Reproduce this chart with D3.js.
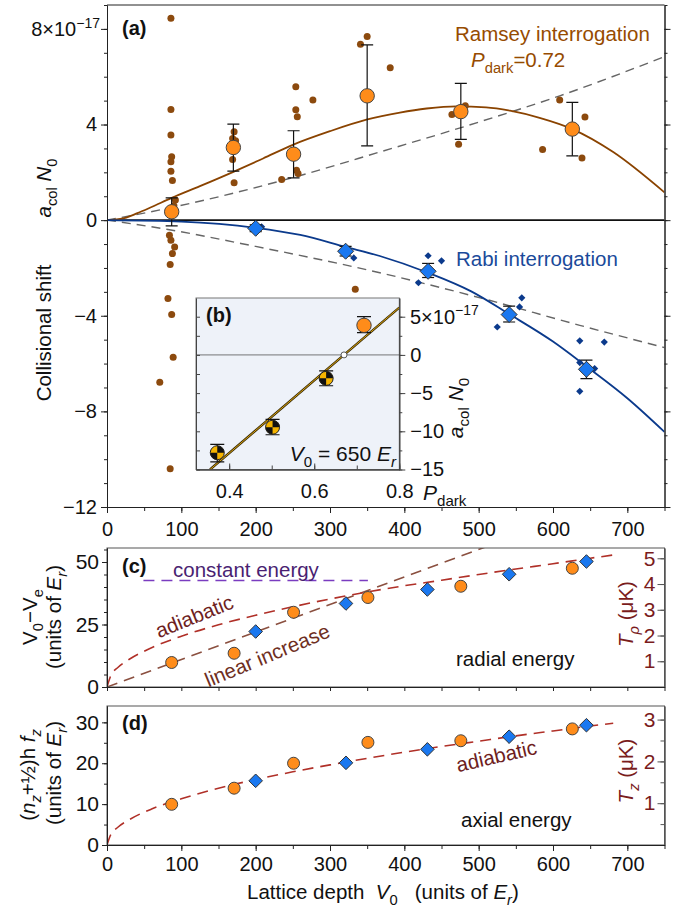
<!DOCTYPE html>
<html>
<head>
<meta charset="utf-8">
<script src="https://cdn.jsdelivr.net/npm/d3@7.9.0/dist/d3.min.js"></script>
<style>
  body { margin: 0; background: #fff; }
  svg { font-family: "Liberation Sans", Arial, sans-serif; }
  svg text { white-space: pre; }
</style>
</head>
<body>
<svg id="fig" width="679" height="908"></svg>
<script>
// ---- data ----
// (a) Ramsey averaged points (units of 1e-17)
const ramseyV = [87, 170, 251, 350, 476, 626];
const ramseyShift = [0.35, 3.04, 2.76, 5.2, 4.54, 3.81];
const ramseyHi = [0.93, 4.02, 3.74, 7.33, 5.72, 4.93];
const ramseyLo = [-0.24, 2.05, 1.77, 3.11, 3.38, 2.69];
// individual Ramsey measurements
const ramseyDotV = [86, 86, 86, 87, 86, 86, 88, 92, 90, 84, 86, 91, 88, 85, 82, 87, 89, 71, 85,
  171, 169, 173, 169, 171, 254, 254, 256, 277, 255, 257, 235, 341, 350, 381, 334,
  464, 482, 473, 586, 609, 643, 639];
const ramseyDotA = [8.45, 4.63, 3.56, 2.65, 2.44, 2.05, 1.66, 0.84, 0.6, -0.63, -0.84, -1.12, -1.4, -1.86, -3.28, -3.95, -5.74, -6.78, -10.4,
  3.7, 3.42, 3.32, 2.54, 1.56, 5.58, 4.62, 4.33, 5.03, 2.09, 1.95, 1.7, 7.36, 7.68, 6.37, -2.89,
  4.42, 4.79, 3.18, 2.96, 5.03, 4.31, 2.6];
// Rabi averaged points
const rabiV = [200, 321, 432, 541, 645];
const rabiShift = [-0.34, -1.3, -2.14, -3.95, -6.24];
const rabiHi = [-0.2, -1.1, -1.81, -3.6, -5.86];
const rabiLo = [-0.48, -1.5, -2.4, -4.26, -6.63];
// individual Rabi measurements
const rabiDotV = [208, 332, 432, 450, 419, 558, 555, 525, 636, 669, 636, 656, 636];
const rabiDotA = [-0.28, -1.58, -1.49, -1.7, -2.62, -3.25, -3.63, -4.47, -5.05, -5.1, -5.96, -6.21, -7.16];
// fitted curves
const ramseyFitV = [0, 13, 26, 40, 60, 87, 125, 170, 210, 250, 300, 349, 394, 430, 470, 510, 542, 582, 626, 681, 750];
const ramseyFitA = [0, 0.03, 0.11, 0.28, 0.55, 0.93, 1.42, 2.02, 2.58, 3.15, 3.72, 4.2, 4.5, 4.67, 4.76, 4.72, 4.58, 4.28, 3.81, 2.85, 1.16];
const rabiFitV = [0, 100, 200, 260, 321, 367, 432, 490, 541, 600, 645, 700, 750];
const rabiFitA = [0, -0.06, -0.32, -0.62, -1.12, -1.5, -2.2, -2.98, -3.93, -5.08, -6.12, -7.45, -8.86];
const upperDashV = [0, 87, 250, 367, 500, 609, 750];
const upperDashA = [0, 0.53, 1.78, 2.85, 4.1, 5.2, 6.84];
const lowerDashV = [0, 80, 200, 367, 502, 636, 750];
const lowerDashA = [0, -0.38, -1.1, -2.2, -3.25, -4.4, -5.33];

// (b) inset at V0 = 650 Er
const insetP = [0.372, 0.502, 0.628];
const insetA = [-12.8, -9.47, -3.07];
const insetHi = [-11.7, -8.45, -2.08];
const insetLo = [-14.0, -10.45, -4.04];
const insetRamseyP = [0.717];
const insetRamseyA = [3.87];
const insetRamseyHi = [5.0];
const insetRamseyLo = [2.92];
const insetFitP = [0.355, 0.8];
const insetFitA = [-15, 6.2];
const insetZeroP = [0.67];

// (c) radial energy, (d) axial energy
const ramseyEV = [87, 171, 251, 351, 476, 626];
const rabiEV = [200, 321.5, 431, 541, 645];
const radialRamsey = [9.8, 13.5, 29.9, 35.8, 40.3, 47.5];
const radialRabi = [22.2, 33.4, 39.0, 45.1, 50.2];
const axialRamsey = [9.95, 13.9, 20.0, 25.1, 25.5, 28.4];
const axialRabi = [15.7, 20.1, 23.4, 26.5, 29.3];
const adiabV = [0, 5, 15, 30, 60, 100, 150, 200, 250, 300, 350, 400, 450, 500, 550, 600, 650, 681];
const radialAdiab = [0, 4.5, 7.9, 11.1, 15.7, 20.3, 24.9, 28.7, 32.1, 35.2, 38, 40.5, 42.7, 45.0, 47.2, 49.3, 51.5, 52.8];
const axialAdiab = [0, 2.5, 4.4, 6.2, 8.8, 11.3, 13.9, 16.0, 17.9, 19.6, 21.2, 22.7, 24.1, 25.4, 26.7, 27.9, 29.1, 29.8];
const linearV = [0, 510];
const linearE = [0, 56.1];
const constV = [49, 351];
const constE = [42.6, 42.6];

const xTicks = [0, 100, 200, 300, 400, 500, 600, 700];

// ---- scales ----
const X0 = 107, X1 = 664.5;
const x = d3.scaleLinear([0, 750], [X0, X1]);
const yA = d3.scaleLinear([-12, 9], [507, 5]);
const yC = d3.scaleLinear([0, 55.6], [687, 548]);
const tC = d3.scaleLinear([0, 5.4], [687, 548]);
const yD = d3.scaleLinear([0, 34], [845, 706]);
const tD = d3.scaleLinear([0, 3.325], [845, 706]);
const xB = d3.scaleLinear([0.322, 0.8], [196, 399.3]);
const yB = d3.scaleLinear([-15, 7.45], [469.5, 298]);

const svg = d3.select('#fig');
svg.append('rect').attr('width', 679).attr('height', 908).attr('fill', '#fff');

const FS = 20;       // tick labels
const FA = 20.5;     // annotations
const zip = (a, b) => a.map((v, i) => [v, b[i]]);

// rich text with italic / subscript / superscript pieces
function rich(t, parts, fs) {
  let shift = 0;
  parts.forEach(p => {
    let target = 0, size = fs;
    if (p.sub) { target = fs * 0.3; size = fs * 0.72; }
    if (p.sup) { target = -fs * 0.42; size = fs * 0.7; }
    t.append('tspan')
      .attr('dy', target - shift)
      .attr('font-size', size)
      .attr('font-style', p.i ? 'italic' : null)
      .text(p.t);
    shift = target;
  });
  return t;
}

function styleAxis(g, color) {
  g.selectAll('path.domain').attr('stroke', color || '#222');
  g.selectAll('line').attr('stroke', color || '#222');
  g.selectAll('text').attr('font-size', FS).attr('fill', color || '#111');
}

function diamond(r) {
  return `M0,${-r}L${r},0L0,${r}L${-r},0Z`;
}

// ================= panel (a) =================
const gA = svg.append('g');
svg.append('clipPath').attr('id', 'clipA')
  .append('rect').attr('x', X0).attr('y', 5).attr('width', X1 - X0).attr('height', 502);

const lineA = d3.line().x(d => x(d[0])).y(d => yA(d[1])).curve(d3.curveMonotoneX);
const plotA = gA.append('g').attr('clip-path', 'url(#clipA)');

plotA.append('path').attr('d', lineA(zip(upperDashV, upperDashA)))
  .attr('fill', 'none').attr('stroke', '#666').attr('stroke-width', 1.4).attr('stroke-dasharray', '9,6');
plotA.append('path').attr('d', lineA(zip(lowerDashV, lowerDashA)))
  .attr('fill', 'none').attr('stroke', '#666').attr('stroke-width', 1.4).attr('stroke-dasharray', '9,6');

// zero line
plotA.append('line').attr('x1', X0).attr('x2', X1).attr('y1', yA(0)).attr('y2', yA(0))
  .attr('stroke', '#111').attr('stroke-width', 1.6);

plotA.append('path').attr('d', lineA(zip(ramseyFitV, ramseyFitA)))
  .attr('fill', 'none').attr('stroke', '#8a4300').attr('stroke-width', 1.8);
plotA.append('path').attr('d', lineA(zip(rabiFitV, rabiFitA)))
  .attr('fill', 'none').attr('stroke', '#0b3a8c').attr('stroke-width', 1.8);

// individual points
plotA.selectAll('.rdot').data(zip(ramseyDotV, ramseyDotA)).join('circle')
  .attr('cx', d => x(d[0])).attr('cy', d => yA(d[1])).attr('r', 3.5).attr('fill', '#8c4a0e');
plotA.selectAll('.bdot').data(zip(rabiDotV, rabiDotA)).join('path')
  .attr('transform', d => `translate(${x(d[0])},${yA(d[1])})`).attr('d', diamond(3.6)).attr('fill', '#0b3a8c');

// error bars
function errBars(g, xs, his, los, sx, sy, cap) {
  xs.forEach((v, i) => {
    const cx = sx(v);
    g.append('line').attr('x1', cx).attr('x2', cx).attr('y1', sy(his[i])).attr('y2', sy(los[i]))
      .attr('stroke', '#111').attr('stroke-width', 1.2);
    [his[i], los[i]].forEach(e => g.append('line')
      .attr('x1', cx - cap).attr('x2', cx + cap).attr('y1', sy(e)).attr('y2', sy(e))
      .attr('stroke', '#111').attr('stroke-width', 1.2));
  });
}
errBars(plotA, ramseyV, ramseyHi, ramseyLo, x, yA, 6);
errBars(plotA, rabiV, rabiHi, rabiLo, x, yA, 6);

plotA.selectAll('.rbig').data(zip(ramseyV, ramseyShift)).join('circle')
  .attr('cx', d => x(d[0])).attr('cy', d => yA(d[1])).attr('r', 7.2)
  .attr('fill', '#ff8c1a').attr('stroke', '#444').attr('stroke-width', 1);
plotA.selectAll('.bbig').data(zip(rabiV, rabiShift)).join('path')
  .attr('transform', d => `translate(${x(d[0])},${yA(d[1])})`).attr('d', diamond(8))
  .attr('fill', '#1a78f0').attr('stroke', '#333').attr('stroke-width', 1);

// axes (a)
const axA = gA.append('g').attr('transform', `translate(${X0},0)`);
axA.call(d3.axisLeft(yA).tickValues(d3.range(-12, 9.5, 1)).tickSize(3).tickSizeOuter(0).tickFormat(''));
const axA2 = gA.append('g').attr('transform', `translate(${X0},0)`)
  .call(d3.axisLeft(yA).tickValues([-12, -8, -4, 0, 4, 8]).tickSize(6).tickSizeOuter(0).tickPadding(4)
    .tickFormat(d => d === 8 ? '' : d3.format('')(d)));
styleAxis(axA); styleAxis(axA2);
rich(gA.append('text').attr('x', 100).attr('y', yA(8) + 7).attr('text-anchor', 'end').attr('fill', '#111'),
  [{ t: '8×10' }, { t: '−17', sup: true }], FS);

const axAR = gA.append('g').attr('transform', `translate(${X1},0)`);
axAR.call(d3.axisRight(yA).tickValues(d3.range(-12, 9.5, 1)).tickSize(3).tickSizeOuter(0).tickFormat(''));
const axAR2 = gA.append('g').attr('transform', `translate(${X1},0)`)
  .call(d3.axisRight(yA).tickValues([-12, -8, -4, 0, 4, 8]).tickSize(6).tickSizeOuter(0).tickFormat(''));
styleAxis(axAR); styleAxis(axAR2);

const axAB = gA.append('g').attr('transform', `translate(0,507)`)
  .call(d3.axisBottom(x).tickValues(d3.range(0, 751, 50)).tickSize(4).tickSizeOuter(0).tickFormat(''));
const axAB2 = gA.append('g').attr('transform', `translate(0,507)`)
  .call(d3.axisBottom(x).tickValues(xTicks).tickSize(6).tickSizeOuter(0).tickPadding(9));
styleAxis(axAB); styleAxis(axAB2);
gA.append('line').attr('x1', X0).attr('x2', X1).attr('y1', 5).attr('y2', 5).attr('stroke', '#222');

// labels (a)
gA.append('text').attr('x', 122).attr('y', 35).attr('font-size', 20).attr('font-weight', 'bold').attr('fill', '#111').text('(a)');
gA.append('text').attr('x', 455).attr('y', 41).attr('font-size', FA).attr('fill', '#964b00').text('Ramsey interrogation');
rich(gA.append('text').attr('x', 471).attr('y', 67).attr('fill', '#964b00'),
  [{ t: 'P', i: true }, { t: 'dark', sub: true }, { t: '=0.72' }], FA);
gA.append('text').attr('x', 456).attr('y', 266).attr('font-size', FA).attr('fill', '#1a4a9a').text('Rabi interrogation');
gA.append('text').attr('transform', 'translate(51,333) rotate(-90)').attr('text-anchor', 'middle')
  .attr('font-size', FA).attr('fill', '#111').text('Collisional shift');
rich(gA.append('text').attr('transform', 'translate(51,188) rotate(-90)').attr('text-anchor', 'middle').attr('fill', '#111'),
  [{ t: 'a', i: true }, { t: 'col', sub: true }, { t: ' ' }, { t: 'N', i: true }, { t: '0', sub: true }], FA);

// ================= inset (b) =================
const gB = svg.append('g');
gB.append('rect').attr('x', 196).attr('y', 298).attr('width', 399.3 - 196).attr('height', 469.5 - 298)
  .attr('fill', '#eef2f9').attr('stroke', '#777').attr('stroke-width', 1);
svg.append('clipPath').attr('id', 'clipB')
  .append('rect').attr('x', 196).attr('y', 298).attr('width', 399.3 - 196).attr('height', 469.5 - 298);
const plotB = gB.append('g').attr('clip-path', 'url(#clipB)');
plotB.append('line').attr('x1', 196).attr('x2', 399.3).attr('y1', yB(0)).attr('y2', yB(0))
  .attr('stroke', '#555').attr('stroke-width', 0.8);
const lineB = d3.line().x(d => xB(d[0])).y(d => yB(d[1]));
plotB.append('path').attr('d', lineB(zip(insetFitP, insetFitA))).attr('stroke', '#3a2a00').attr('stroke-width', 2.4).attr('fill', 'none');
plotB.append('path').attr('d', lineB(zip(insetFitP, insetFitA))).attr('stroke', '#d9a414').attr('stroke-width', 1).attr('fill', 'none');
errBars(plotB, insetP, insetHi, insetLo, xB, yB, 7);
errBars(plotB, insetRamseyP, insetRamseyHi, insetRamseyLo, xB, yB, 7);
const quarter = d3.arc().innerRadius(0).outerRadius(7);
insetP.forEach((p, i) => {
  const g = plotB.append('g').attr('transform', `translate(${xB(p)},${yB(insetA[i])})`);
  g.append('circle').attr('r', 7).attr('fill', '#f5b400');
  g.append('path').attr('d', quarter({ startAngle: 0, endAngle: Math.PI / 2 })).attr('fill', '#111');
  g.append('path').attr('d', quarter({ startAngle: Math.PI, endAngle: 1.5 * Math.PI })).attr('fill', '#111');
  g.append('circle').attr('r', 7).attr('fill', 'none').attr('stroke', '#222').attr('stroke-width', 1);
});
plotB.selectAll('.ir').data(zip(insetRamseyP, insetRamseyA)).join('circle')
  .attr('cx', d => xB(d[0])).attr('cy', d => yB(d[1])).attr('r', 7.2)
  .attr('fill', '#ff8c1a').attr('stroke', '#444').attr('stroke-width', 1);
plotB.selectAll('.iz').data(insetZeroP).join('circle')
  .attr('cx', d => xB(d)).attr('cy', yB(0)).attr('r', 3)
  .attr('fill', '#fff').attr('stroke', '#333').attr('stroke-width', 0.8);

const axBb = gB.append('g').attr('transform', 'translate(0,469.5)')
  .call(d3.axisBottom(xB).tickValues([0.4, 0.5, 0.6, 0.7, 0.8]).tickSize(-4).tickSizeOuter(0).tickFormat(''));
const axBb2 = gB.append('g').attr('transform', 'translate(0,469.5)')
  .call(d3.axisBottom(xB).tickValues([0.4, 0.6, 0.8]).tickSize(-6).tickSizeOuter(0).tickPadding(14).tickFormat(d3.format('.1f')));
styleAxis(axBb, '#444'); styleAxis(axBb2, '#444');
axBb2.selectAll('text').attr('fill', '#111');
const axBl = gB.append('g').attr('transform', 'translate(196,0)')
  .call(d3.axisRight(yB).tickValues(d3.range(-15, 7.5, 2.5)).tickSize(4).tickSizeOuter(0).tickFormat(''));
styleAxis(axBl, '#444');
const axBr = gB.append('g').attr('transform', 'translate(399.3,0)')
  .call(d3.axisRight(yB).tickValues(d3.range(-15, 7.5, 2.5)).tickSize(3).tickSizeOuter(0).tickFormat(''));
const axBr2 = gB.append('g').attr('transform', 'translate(399.3,0)')
  .call(d3.axisRight(yB).tickValues([-15, -10, -5, 0, 5]).tickSize(6).tickSizeOuter(0).tickPadding(5)
    .tickFormat(d => d === 5 ? '' : d3.format('')(d)));
styleAxis(axBr, '#444'); styleAxis(axBr2, '#444');
axBr2.selectAll('text').attr('fill', '#111');
rich(gB.append('text').attr('x', 410).attr('y', yB(5) + 7).attr('fill', '#111'),
  [{ t: '5×10' }, { t: '−17', sup: true }], FS);
gB.append('text').attr('x', 206).attr('y', 322).attr('font-size', 20).attr('font-weight', 'bold').attr('fill', '#111').text('(b)');
rich(gB.append('text').attr('x', 396).attr('y', 461).attr('text-anchor', 'end').attr('fill', '#111'),
  [{ t: 'V', i: true }, { t: '0', sub: true }, { t: ' = 650 ' }, { t: 'E', i: true }, { t: 'r', sub: true, i: true }], 21);
rich(gB.append('text').attr('transform', 'translate(463,408) rotate(-90)').attr('text-anchor', 'middle').attr('fill', '#111'),
  [{ t: 'a', i: true }, { t: 'col', sub: true }, { t: ' ' }, { t: 'N', i: true }, { t: '0', sub: true }], 21);
rich(gB.append('text').attr('x', 423).attr('y', 500).attr('fill', '#111'),
  [{ t: 'P', i: true }, { t: 'dark', sub: true }], 21);

// ================= panels (c) and (d) =================
function energyPanel(yS, tS, top, bottom, ramseyE, rabiE, adiab, tMax, tMinorStep) {
  const g = svg.append('g');
  const id = 'clip' + top;
  svg.append('clipPath').attr('id', id)
    .append('rect').attr('x', X0).attr('y', top).attr('width', X1 - X0).attr('height', bottom - top);
  const plot = g.append('g').attr('clip-path', `url(#${id})`);
  const ln = d3.line().x(d => x(d[0])).y(d => yS(d[1])).curve(d3.curveMonotoneX);
  g.append('rect').attr('x', X0).attr('y', top).attr('width', X1 - X0).attr('height', bottom - top)
    .attr('fill', 'none').attr('stroke', '#555').attr('stroke-width', 1);
  plot.append('path').attr('class', 'adiab').attr('d', ln(zip(adiabV, adiab)))
    .attr('fill', 'none').attr('stroke', '#b03028').attr('stroke-width', 1.6).attr('stroke-dasharray', '11,7');
  // markers
  plot.selectAll('.oc').data(zip(ramseyEV, ramseyE)).join('circle')
    .attr('cx', d => x(d[0])).attr('cy', d => yS(d[1])).attr('r', 6)
    .attr('fill', '#ff8c1a').attr('stroke', '#444').attr('stroke-width', 1);
  plot.selectAll('.bd').data(zip(rabiEV, rabiE)).join('path')
    .attr('transform', d => `translate(${x(d[0])},${yS(d[1])})`).attr('d', diamond(6.8))
    .attr('fill', '#1a78f0').attr('stroke', '#333').attr('stroke-width', 1);
  // left axis
  const step = yS.domain()[1] > 40 ? 25 : 10;
  const l1 = g.append('g').attr('transform', `translate(${X0},0)`)
    .call(d3.axisLeft(yS).tickValues(d3.range(0, yS.domain()[1], 5)).tickSize(3).tickSizeOuter(0).tickFormat(''));
  const l2 = g.append('g').attr('transform', `translate(${X0},0)`)
    .call(d3.axisLeft(yS).tickValues(d3.range(0, yS.domain()[1], step)).tickSize(5).tickSizeOuter(0).tickPadding(3));
  styleAxis(l1); styleAxis(l2);
  l2.selectAll('text').attr('font-size', 21);
  // right temperature axis, drawn inside the frame
  const r1 = g.append('g').attr('transform', `translate(${X1},0)`)
    .call(d3.axisLeft(tS).tickValues(d3.range(tMinorStep, tMax + 0.01, tMinorStep)).tickSize(4).tickSizeOuter(0).tickFormat(''));
  const r2 = g.append('g').attr('transform', `translate(${X1},0)`)
    .call(d3.axisLeft(tS).tickValues(d3.range(1, tMax + 0.01, 1)).tickSize(7).tickSizeOuter(0).tickPadding(2)
      .tickFormat(d3.format('d')));
  styleAxis(r1, '#555'); styleAxis(r2, '#555');
  r2.selectAll('text').attr('fill', '#7a1c1c').attr('font-size', 21);
  // bottom axis
  const b1 = g.append('g').attr('transform', `translate(0,${bottom})`)
    .call(d3.axisBottom(x).tickValues(d3.range(0, 751, 50)).tickSize(4).tickSizeOuter(0).tickFormat(''));
  styleAxis(b1);
  return { g, plot, ln };
}

const pc = energyPanel(yC, tC, 548, 687, radialRamsey, radialRabi, radialAdiab, 5, 1);
pc.plot.insert('path', '.adiab').attr('d', pc.ln(zip(linearV, linearE)))
  .attr('fill', 'none').attr('stroke', '#8b5040').attr('stroke-width', 1.6).attr('stroke-dasharray', '11,7');
pc.plot.insert('path', '.adiab').attr('d', pc.ln(zip(constV, constE)))
  .attr('fill', 'none').attr('stroke', '#7a3cc0').attr('stroke-width', 1.5).attr('stroke-dasharray', '11,7');
pc.g.append('text').attr('x', 122).attr('y', 573).attr('font-size', 20).attr('font-weight', 'bold').attr('fill', '#111').text('(c)');
pc.g.append('text').attr('x', 173).attr('y', 577).attr('font-size', FA).attr('fill', '#4a1f72').text('constant energy');
pc.g.append('text').attr('transform', 'translate(197,623) rotate(-22)').attr('text-anchor', 'middle')
  .attr('font-size', FA).attr('fill', '#6e1e1e').text('adiabatic');
pc.g.append('text').attr('transform', 'translate(270,662) rotate(-22.5)').attr('text-anchor', 'middle')
  .attr('font-size', FA).attr('fill', '#6e2e22').text('linear increase');
pc.g.append('text').attr('x', 456).attr('y', 666).attr('font-size', FA).attr('fill', '#111').text('radial energy');
rich(pc.g.append('text').attr('transform', 'translate(37,617) rotate(-90)').attr('text-anchor', 'middle').attr('fill', '#111'),
  [{ t: 'V' }, { t: '0', sub: true }, { t: '−V' }, { t: 'e', sub: true }], FA);
rich(pc.g.append('text').attr('transform', 'translate(61,617) rotate(-90)').attr('text-anchor', 'middle').attr('fill', '#111'),
  [{ t: '(units of ' }, { t: 'E', i: true }, { t: 'r', sub: true, i: true }, { t: ')' }], FA);
rich(pc.g.append('text').attr('transform', 'translate(633,614) rotate(-90)').attr('text-anchor', 'middle').attr('fill', '#7a1c1c'),
  [{ t: 'T', i: true }, { t: 'ρ', sub: true, i: true }, { t: ' (μK)' }], FA);

const pd = energyPanel(yD, tD, 706, 845, axialRamsey, axialRabi, axialAdiab, 3, 0.5);
const axDB = pd.g.append('g').attr('transform', 'translate(0,845)')
  .call(d3.axisBottom(x).tickValues(xTicks).tickSize(6).tickSizeOuter(0).tickPadding(6));
styleAxis(axDB);
pd.g.append('text').attr('x', 122).attr('y', 730).attr('font-size', 20).attr('font-weight', 'bold').attr('fill', '#111').text('(d)');
pd.g.append('text').attr('transform', 'translate(498,763) rotate(-13)').attr('text-anchor', 'middle')
  .attr('font-size', FA).attr('fill', '#6e1e1e').text('adiabatic');
pd.g.append('text').attr('x', 461).attr('y', 827).attr('font-size', FA).attr('fill', '#111').text('axial energy');
rich(pd.g.append('text').attr('transform', 'translate(35,775) rotate(-90)').attr('text-anchor', 'middle').attr('fill', '#111'),
  [{ t: '(' }, { t: 'n', i: true }, { t: 'z', sub: true, i: true }, { t: '+½)h ' }, { t: 'f', i: true }, { t: 'z', sub: true, i: true }], FA);
rich(pd.g.append('text').attr('transform', 'translate(61,773) rotate(-90)').attr('text-anchor', 'middle').attr('fill', '#111'),
  [{ t: '(units of ' }, { t: 'E', i: true }, { t: 'r', sub: true, i: true }, { t: ')' }], FA);
rich(pd.g.append('text').attr('transform', 'translate(633,771) rotate(-90)').attr('text-anchor', 'middle').attr('fill', '#7a1c1c'),
  [{ t: 'T', i: true }, { t: 'z', sub: true, i: true }, { t: ' (μK)' }], FA);

rich(svg.append('text').attr('x', 247).attr('y', 899).attr('fill', '#111'),
  [{ t: 'Lattice depth  ' }, { t: 'V', i: true }, { t: '0', sub: true }, { t: '   (units of ' }, { t: 'E', i: true }, { t: 'r', sub: true, i: true }, { t: ')' }], FA);
</script>
</body>
</html>
